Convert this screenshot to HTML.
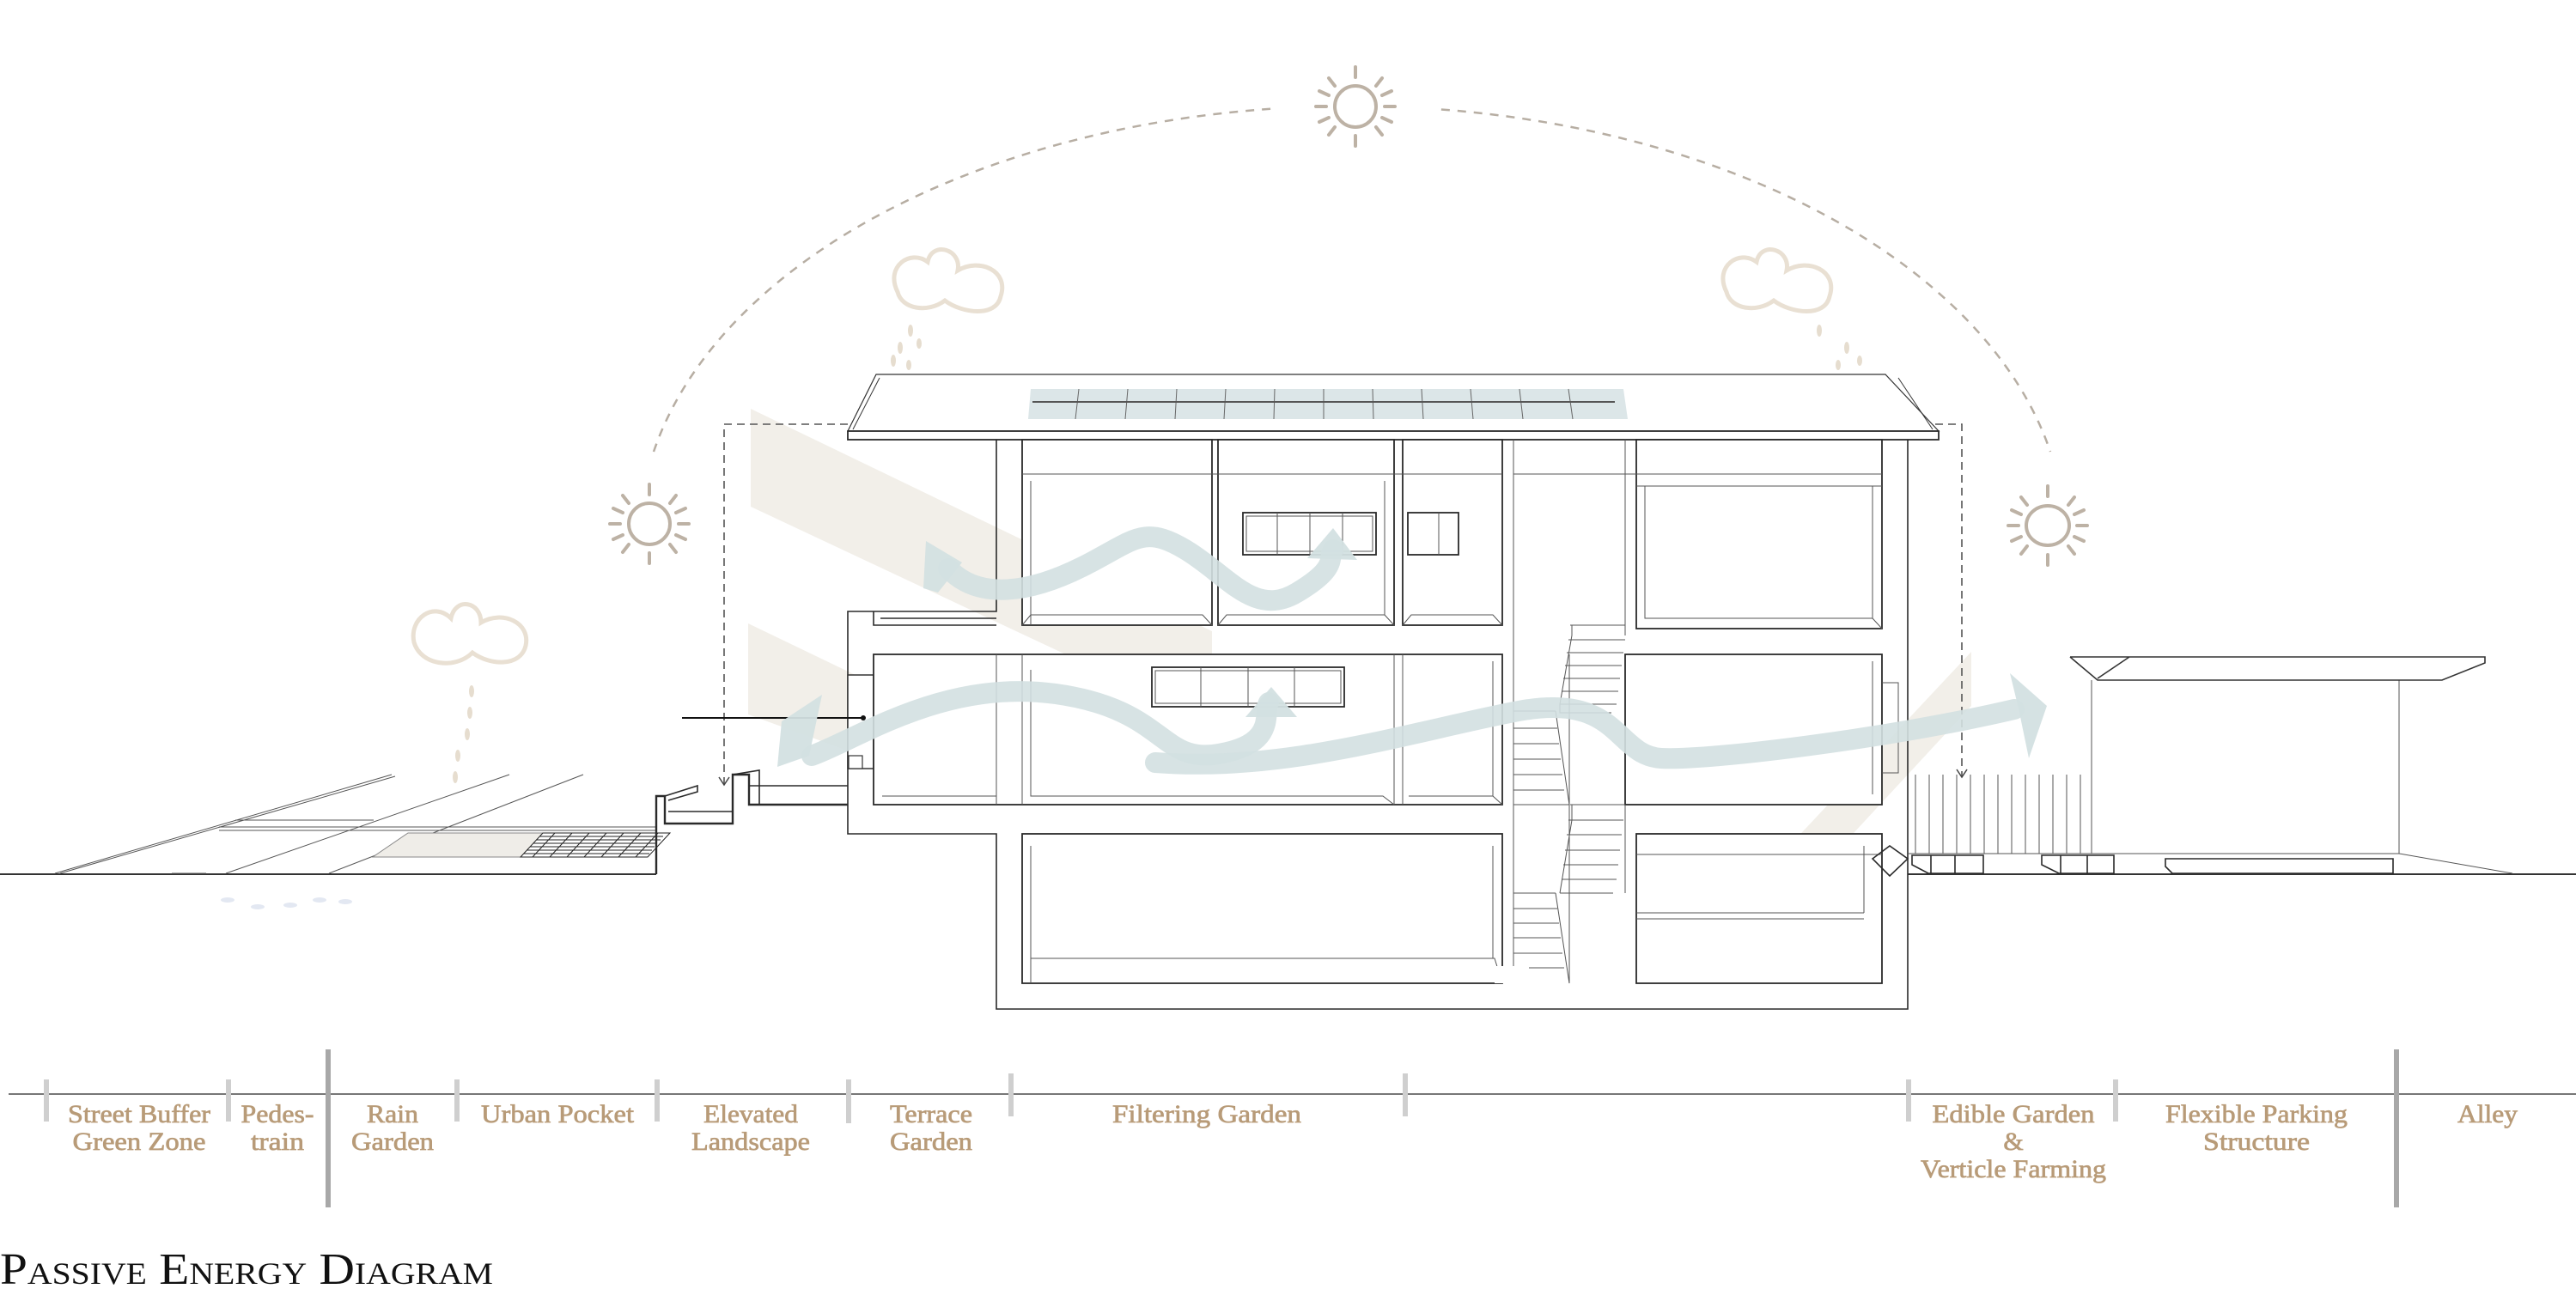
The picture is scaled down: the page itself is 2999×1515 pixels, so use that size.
<!DOCTYPE html>
<html><head><meta charset="utf-8"><style>
html,body{margin:0;padding:0;background:#fff;}
svg{display:block;}
.t{font-family:"Liberation Serif",serif;font-size:30px;fill:#b89b78;stroke:#b89b78;stroke-width:0.7;text-anchor:middle;}
.l{stroke:#2a2a2a;stroke-width:1.6;fill:none;}
.lt{stroke:#555;stroke-width:1;fill:none;}
.w{stroke:#2a2a2a;stroke-width:1.8;fill:#fff;}
.sun{stroke:#bdb2a5;stroke-width:4;fill:none;stroke-linecap:round;}
.cl{stroke:#e9e0d3;stroke-width:5;fill:none;}
.drop{fill:#e6ddcf;}
.band{fill:#f2efe9;}
.flow{stroke:#d3e0e1;stroke-width:24;fill:none;opacity:.9;stroke-linecap:round;}
.head{fill:#d3e0e1;opacity:.95;}
</style></head><body>
<svg width="2999" height="1515" viewBox="0 0 2999 1515" xmlns="http://www.w3.org/2000/svg">
<rect width="2999" height="1515" fill="#fff"/>

<path d="M761,526 A830,504 0 0 1 2387,526" stroke="#b7aea3" stroke-width="2.5" stroke-dasharray="10,9" fill="none"/>
<rect x="1480" y="95" width="190" height="60" fill="#fff"/>

<g class="sun">
<g transform="translate(1578,124)"><circle r="24"/><path d="M0,-34V-46M0,34V46M34,0H46M-34,0H-46M24,-24L31,-33M-24,-24L-31,-33M24,24L31,33M-24,24L-31,33M31,-13L42,-18M-31,-13L-42,-18M31,13L42,18M-31,13L-42,18"/></g>
<g transform="translate(756,610)"><circle r="24"/><path d="M0,-34V-46M0,34V46M34,0H46M-34,0H-46M24,-24L31,-33M-24,-24L-31,-33M24,24L31,33M-24,24L-31,33M31,-13L42,-18M-31,-13L-42,-18M31,13L42,18M-31,13L-42,18"/></g>
<g transform="translate(2384,612)"><ellipse rx="25" ry="23"/><path d="M0,-34V-46M0,34V46M34,0H46M-34,0H-46M24,-24L31,-33M-24,-24L-31,-33M24,24L31,33M-24,24L-31,33M31,-13L42,-18M-31,-13L-42,-18M31,13L42,18M-31,13L-42,18"/></g>
</g>

<g class="cl">
<path d="M1045,340 C1030,310 1060,290 1080,305 C1085,280 1120,290 1115,315 C1140,300 1175,315 1165,345 C1160,370 1120,365 1100,350 C1080,365 1050,360 1045,340 Z"/>
<path d="M2010,340 C1995,310 2025,290 2045,305 C2050,280 2085,290 2080,315 C2105,300 2140,315 2130,345 C2125,370 2085,365 2065,350 C2045,365 2015,360 2010,340 Z"/>
<path d="M482,748 C476,720 505,700 525,720 C530,695 560,700 560,725 C585,710 618,725 612,752 C606,777 570,775 550,760 C530,780 490,775 482,748 Z"/>
</g>
<g class="drop">
<ellipse cx="1060" cy="385" rx="3" ry="7"/><ellipse cx="1048" cy="405" rx="3" ry="7"/><ellipse cx="1070" cy="400" rx="3" ry="6"/><ellipse cx="1040" cy="420" rx="3" ry="7"/><ellipse cx="1058" cy="425" rx="3" ry="6"/>
<ellipse cx="2118" cy="385" rx="3" ry="7"/><ellipse cx="2150" cy="405" rx="3" ry="7"/><ellipse cx="2165" cy="420" rx="3" ry="6"/><ellipse cx="2140" cy="425" rx="3" ry="6"/>
<ellipse cx="549" cy="805" rx="3" ry="7"/><ellipse cx="547" cy="830" rx="3" ry="7"/><ellipse cx="544" cy="855" rx="3" ry="7"/><ellipse cx="533" cy="880" rx="3" ry="7"/><ellipse cx="530" cy="905" rx="3" ry="7"/>
</g>
<g fill="#e3e8f2">
<ellipse cx="265" cy="1048" rx="8" ry="3"/><ellipse cx="300" cy="1056" rx="8" ry="3"/><ellipse cx="338" cy="1054" rx="8" ry="3"/><ellipse cx="372" cy="1048" rx="8" ry="3"/><ellipse cx="402" cy="1050" rx="8" ry="3"/>
</g>

<polygon class="band" points="874,476 1411,735 1411,842 874,590"/>
<polygon class="band" points="871,726 1160,865 1160,937 871,832"/>
<polygon class="band" points="1936,1142 1999,1142 2295,822 2295,759"/>

<line x1="0" y1="1018" x2="764" y2="1018" stroke="#333" stroke-width="2"/>
<line x1="2221" y1="1018" x2="2999" y2="1018" stroke="#333" stroke-width="2"/>
<g class="lt">
<path d="M64,1017 L456,902 M70,1017 L460,904"/>
<path d="M263,1017 L593,902"/>
<path d="M383,1017 L679,902"/>
<path d="M255,963 H764 M274,955 H435 M255,967 H764"/>
<path d="M200,1017 H240"/>
</g>
<polygon points="434,998 609,998 650,970 475,970" fill="#efede8" stroke="#888" stroke-width="1"/>
<g stroke="#222" stroke-width="1">
<polygon points="606,998 754,998 780,970 632,970" fill="#fff"/>
<path d="M610,994H756M614,990H759M617,986H762M621,982H765M624,978H769M628,974H772"/>
<path d="M620,998L646,970M640,998L666,970M660,998L686,970M680,998L706,970M700,998L726,970M720,998L746,970M740,998L766,970"/>
</g>
<g class="l">
<path d="M764,1018 V927 H774 V959 H853 V902 H872 V937 H987" stroke-width="2.4"/>
<path d="M774,927 L812,915 V922 L778,932 M778,945 H853 M853,902 L884,897 V936 M872,915 H987"/>
</g>

<path d="M843,914 V494 H2284 V904" stroke="#555" stroke-width="1.6" stroke-dasharray="9,6" fill="none"/>
<path d="M837,905 L843,914 L849,905 M2278,896 L2284,905 L2290,896" stroke="#444" stroke-width="1.5" fill="none"/>

<polygon points="1020,436 2195,436 2257,502 987,502" fill="#fff" stroke="#333" stroke-width="1.2"/>
<polygon points="1200,453 1890,453 1895,488 1197,488" fill="#dce6e8"/>
<g stroke="#666" stroke-width="1">
<path d="M1256,453 L1252,488 M1313,453 L1310,488 M1370,453 L1368,488 M1427,453 L1425,488 M1484,453 L1483,488 M1541,453 L1541,488 M1598,453 L1599,488 M1655,453 L1657,488 M1712,453 L1715,488 M1769,453 L1773,488 M1826,453 L1831,488"/>
</g>
<line x1="1202" y1="468" x2="1880" y2="468" stroke="#555" stroke-width="2"/>
<rect x="987" y="502" width="1270" height="10" class="w"/>
<path d="M993,500 L1024,440 M2250,500 L2210,440" stroke="#333" stroke-width="1" fill="none"/>

<path d="M1160,512 V712 H987 V971 H1160 V1175 H2221 V512" class="l" stroke-width="2.6"/>
<rect x="987" y="786" width="30" height="109" fill="#fff" stroke="#333" stroke-width="1.5"/>
<rect x="988" y="880" width="16" height="15" fill="#fff" stroke="#333" stroke-width="1.2"/>
<line x1="794" y1="836" x2="1005" y2="836" stroke="#111" stroke-width="2"/>
<circle cx="1005" cy="836" r="3" fill="#111"/>
<path d="M1017,712 V728 H1160 M1025,720 H1160" class="l"/>

<g class="w">
<rect x="1190" y="512" width="221" height="216"/>
<rect x="1418" y="512" width="205" height="216"/>
<rect x="1633" y="512" width="116" height="216"/>
<rect x="1905" y="512" width="286" height="220"/>
<rect x="1017" y="762" width="732" height="175"/>
<rect x="1892" y="762" width="299" height="175"/>
<rect x="1190" y="971" width="559" height="174"/>
<rect x="1905" y="971" width="286" height="174"/>
</g>
<g class="lt">
<path d="M1190,552 H1749 M1200,560 V728 M1411,728 L1400,716 H1200 L1190,728 M1623,728 L1612,716 H1428 L1418,728 M1749,728 L1738,716 H1643 L1633,728 M1612,560 V716"/>
<path d="M1762,552 H2191 M1905,566 H2191 M1915,566 V720 H2180 L2191,732 M2180,566 V720"/>
<path d="M1160,762 V937 M1190,762 V937 M1200,780 V927 H1610 L1623,937 M1623,762 V937 M1633,762 V937 M1640,927 H1738 L1749,937 M1027,927 H1160 M1738,770 V927"/>
<path d="M1200,1116 H1740 L1749,1145 M1200,985 V1145 M1738,985 V1116"/>
<path d="M1905,1063 H2170 M1905,1070 H2170 M2170,985 V1063 M1905,995 H2191"/>
<path d="M2180,770 V925 M2191,795 H2210 V900 H2191"/>
</g>
<g class="w" stroke-width="1.5">
<rect x="1447" y="597" width="155" height="49"/><rect x="1639" y="597" width="59" height="49"/>
<rect x="1341" y="777" width="224" height="46"/>
</g>
<g class="lt">
<rect x="1451" y="601" width="147" height="41"/><path d="M1487,597V646M1525,597V646M1563,597V646M1675,597V646"/>
<rect x="1345" y="781" width="216" height="38"/><path d="M1398,777V823M1453,777V823M1507,777V823"/>
</g>

<g class="lt" stroke="#333">
<path d="M1762,512 V1145 M1827,762 V1145 M1892,512 V740"/>
<path d="M1828,728 H1892 M1826,745 H1892 M1824,760 H1890 M1822,775 H1888 M1820,790 H1886 M1818,805 H1884 M1816,820 H1882 M1830,728 V740 L1816,820 V830 H1876"/>
<path d="M1762,828 H1811 M1762,848 H1813 M1762,866 H1815 M1762,884 H1817 M1762,902 H1819 M1762,920 H1821 M1762,937 H1827 M1811,828 L1827,937"/>
<path d="M1828,937 H1892 M1826,955 H1890 M1824,972 H1888 M1822,990 H1886 M1820,1007 H1884 M1818,1024 H1882 M1816,1040 H1878 M1830,937 V955 L1816,1040"/>
<path d="M1762,1040 H1811 M1762,1058 H1813 M1762,1075 H1815 M1762,1092 H1817 M1762,1110 H1819 M1762,1127 H1821 M1811,1040 L1827,1145"/>
<path d="M1892,937 V1040"/>
</g>
<rect x="1740" y="1125" width="40" height="20" fill="#fff" stroke="none"/>

<path class="flow" d="M1104,662 C1140,700 1200,690 1260,660 S1330,610 1380,640 S1460,720 1510,690 S1545,650 1552,640"/>
<polygon class="head" points="1078,630 1120,655 1092,690 1075,685"/>
<polygon class="head" points="1552,615 1522,650 1580,652"/>
<path class="flow" d="M945,880 C1000,860 1100,790 1229,808 S1350,890 1419,878 S1470,830 1477,818"/>
<polygon class="head" points="957,809 942,880 905,893 910,840"/>
<polygon class="head" points="1480,800 1450,835 1510,835"/>
<path class="flow" d="M1345,888 C1500,900 1650,850 1768,828 S1880,880 1934,883 S2200,860 2345,826"/>
<polygon class="head" points="2340,784 2383,822 2362,883 2350,825"/>

<g class="lt" stroke="#444">
<path d="M2230,902V994 M2246,902V994 M2262,902V994 M2278,902V994 M2294,902V994 M2310,902V994 M2326,902V994 M2342,902V994 M2358,902V994 M2374,902V994 M2390,902V994 M2406,902V994 M2422,902V994"/>
<path d="M2221,994 H2793 L2925,1017"/>
<path d="M2435,792 V994 M2793,792 V994"/>
</g>
<path d="M2410,765 L2442,792 H2843 L2893,772 V765 H2479 L2442,790 M2479,765 L2410,765" stroke="#333" stroke-width="1.6" fill="#fff"/>
<g class="l" stroke-width="1.3">
<path d="M2226,996 H2309 V1017 H2245 L2226,1007 Z M2248,996 V1017 M2276,996 V1017"/>
<path d="M2377,996 H2461 V1017 H2397 L2377,1007 Z M2399,996 V1017 M2430,996 V1017"/>
<path d="M2521,1000 H2786 V1017 H2529 L2521,1009 Z"/>
<path d="M2180,1000 L2200,985 L2221,1000 L2200,1020 Z"/>
</g>

<line x1="10" y1="1274" x2="2999" y2="1274" stroke="#777" stroke-width="2"/>
<g stroke="#cfcfcf" stroke-width="6">
<path d="M54,1257V1306 M266,1257V1306 M532,1257V1306 M765,1257V1306 M988,1257V1308 M1177,1250V1300 M1636,1250V1300 M2222,1257V1306 M2463,1257V1306"/>
</g>
<g stroke="#a8a8a8" stroke-width="6">
<path d="M382,1222V1406 M2790,1222V1406"/>
</g>
<g class="t">
<text x="162" y="1307" textLength="166" lengthAdjust="spacingAndGlyphs">Street Buffer</text>
<text x="162" y="1339" textLength="155" lengthAdjust="spacingAndGlyphs">Green Zone</text>
<text x="323" y="1307" textLength="85" lengthAdjust="spacingAndGlyphs">Pedes-</text>
<text x="323" y="1339" textLength="62" lengthAdjust="spacingAndGlyphs">train</text>
<text x="457" y="1307" textLength="60" lengthAdjust="spacingAndGlyphs">Rain</text>
<text x="457" y="1339" textLength="96" lengthAdjust="spacingAndGlyphs">Garden</text>
<text x="649" y="1307" textLength="178" lengthAdjust="spacingAndGlyphs">Urban Pocket</text>
<text x="874" y="1307" textLength="110" lengthAdjust="spacingAndGlyphs">Elevated</text>
<text x="874" y="1339" textLength="138" lengthAdjust="spacingAndGlyphs">Landscape</text>
<text x="1084" y="1307" textLength="96" lengthAdjust="spacingAndGlyphs">Terrace</text>
<text x="1084" y="1339" textLength="96" lengthAdjust="spacingAndGlyphs">Garden</text>
<text x="1405" y="1307" textLength="220" lengthAdjust="spacingAndGlyphs">Filtering Garden</text>
<text x="2344" y="1307" textLength="189" lengthAdjust="spacingAndGlyphs">Edible Garden</text>
<text x="2344" y="1339">&amp;</text>
<text x="2344" y="1371" textLength="216" lengthAdjust="spacingAndGlyphs">Verticle Farming</text>
<text x="2627" y="1307" textLength="212" lengthAdjust="spacingAndGlyphs">Flexible Parking</text>
<text x="2627" y="1339" textLength="124" lengthAdjust="spacingAndGlyphs">Structure</text>
<text x="2896" y="1307" textLength="70" lengthAdjust="spacingAndGlyphs">Alley</text>
</g>
<text x="0" y="1495" font-family="Liberation Serif, serif" font-size="52" fill="#111" style="font-variant:small-caps" textLength="574" lengthAdjust="spacingAndGlyphs">Passive Energy Diagram</text>
</svg>
</body></html>
